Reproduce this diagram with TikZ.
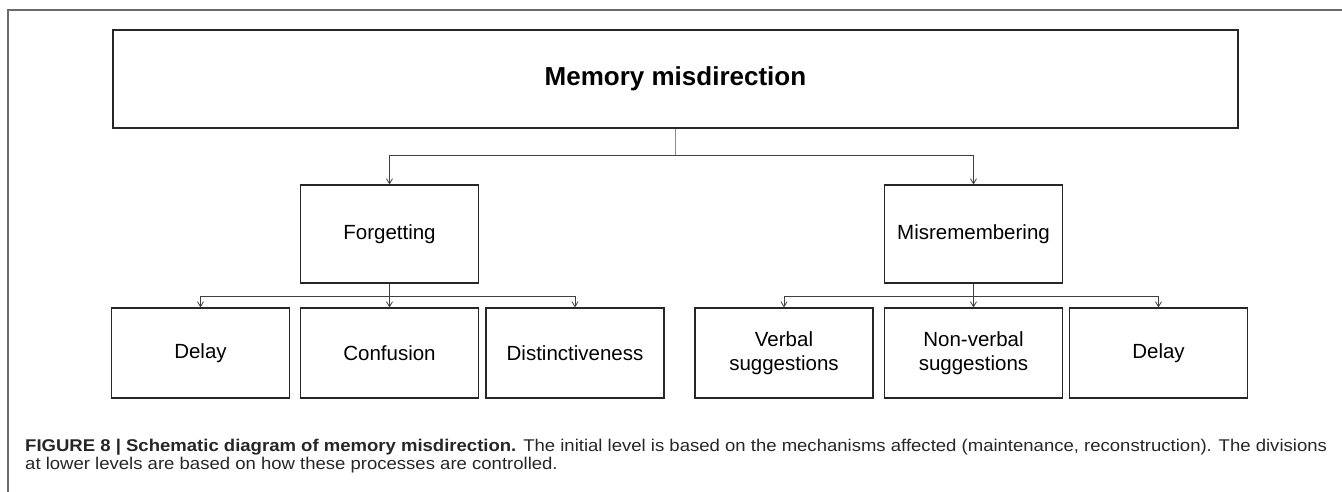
\documentclass[tikz,border=0pt]{standalone}
\usepackage{fontspec}
\setmainfont{Liberation Sans}
\newfontfamily\capfont[FakeStretch=1.09]{Liberation Sans}
\usetikzlibrary{arrows.meta}

\tikzset{
  frameline/.style={draw=black!58, line width=1.5pt},
  topbox/.style={draw=black!85, line width=1.1pt, minimum width=1125pt, minimum height=98pt, inner sep=0pt,
                 font=\fontsize{26}{30}\selectfont\bfseries},
  catbox/.style={draw=black!85, line width=1.1pt, minimum width=178pt, minimum height=98pt, inner sep=0pt,
                 font=\fontsize{20.5}{23.5}\selectfont, align=center},
  leafbox/.style={draw=black!85, line width=1.1pt, minimum width=178pt, minimum height=90pt, inner sep=0pt,
                  font=\fontsize{20.5}{23.5}\selectfont, align=center},
  stem/.style={draw=black!45, line width=1pt},
  link/.style={draw=black!75, line width=1pt, -{Straight Barb[length=5pt,width=6pt,line width=0.8pt]}},
  captext/.style={anchor=base west, inner sep=0pt, font=\capfont\fontsize{17}{18}\selectfont, text=black!85}
}

\begin{document}
\begin{tikzpicture}[x=1pt,y=-1pt]
  \useasboundingbox (0,0) rectangle (1342,492);

  % page frame (top and left sides)
  \draw[frameline] (8,492) -- (8,10) -- (1342,10);

  % root
  \node[topbox] (root) at (675.5,79) {Memory misdirection};

  % first level
  \node[catbox] (forg) at (389.5,234) {Forgetting};
  \node[catbox] (misr) at (973.5,234) {Misremembering};

  % second level
  \node[leafbox] (delayA) at (200.5,353) {Delay};
  \node[leafbox] (conf)   at (389.5,353) {Confusion};
  \node[leafbox] (dist)   at (575,353)   {Distinctiveness};
  \node[leafbox] (verb)   at (784,353)   {Verbal\\suggestions};
  \node[leafbox] (nonv)   at (973.5,353) {Non-verbal\\suggestions};
  \node[leafbox] (delayB) at (1158.5,353) {Delay};

  % connectors from the root
  \draw[stem] (root.south) -- ++(0,27) coordinate (j0);
  \draw[link] (j0) -| (forg.north);
  \draw[link] (j0) -| (misr.north);

  % connectors under Forgetting
  \draw[link] (forg.south) -- ++(0,13) coordinate (j1) -- (conf.north);
  \draw[link] (j1) -| (delayA.north);
  \draw[link] (j1) -| (dist.north);

  % connectors under Misremembering
  \draw[link] (misr.south) -- ++(0,13) coordinate (j2) -- (nonv.north);
  \draw[link] (j2) -| (verb.north);
  \draw[link] (j2) -| (delayB.north);

  % caption
  \node[captext] (cap1) at (25,451) {\textbf{FIGURE 8 | Schematic diagram of memory misdirection.} The initial level is based on the mechanisms affected (maintenance, reconstruction). The divisions};
  \node[captext] (cap2) at (25,469) {at lower levels are based on how these processes are controlled.};
\end{tikzpicture}
\end{document}
